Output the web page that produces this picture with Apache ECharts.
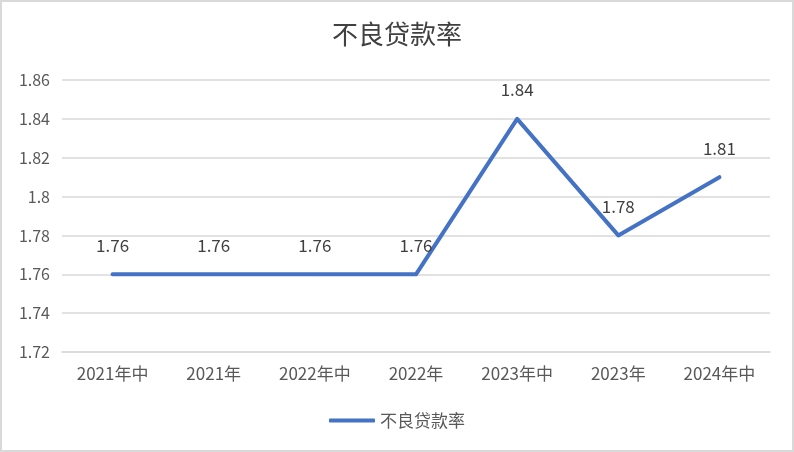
<!DOCTYPE html>
<html>
<head>
<meta charset="utf-8">
<script src="https://cdn.jsdelivr.net/npm/echarts@6/dist/echarts.min.js"></script>
<style>
    html, body { margin: 0; padding: 0; background: #fff; }
    #chart { width: 790px; height: 448px; border: 2px solid #d9d9d9; }
</style>
</head>
<body>
<div id="chart"></div>
<script>
// 数据
const categories = ['2021年中', '2021年', '2022年中', '2022年', '2023年中', '2023年', '2024年中'];
const nplRatio = [1.76, 1.76, 1.76, 1.76, 1.84, 1.78, 1.81];
const seriesName = '不良贷款率';

const chart = echarts.init(document.getElementById('chart'));
const font = '"Microsoft YaHei", "Noto Sans CJK SC", sans-serif';

chart.setOption({
    animation: false,
    title: {
        text: '不良贷款率',
        left: 'center',
        top: 14,
        textStyle: {
            fontFamily: '"Noto Sans CJK SC", serif',
            fontSize: 26,
            fontWeight: 'normal',
            color: '#404040'
        }
    },
    legend: {
        data: [seriesName],
        bottom: 16,
        left: 'center',
        itemWidth: 46,
        itemHeight: 4,
        itemGap: 6,
        icon: 'roundRect',
        textStyle: { fontFamily: font, fontSize: 17, color: '#595959' }
    },
    grid: {
        top: 78,
        left: 60,
        right: 22,
        bottom: 98
    },
    xAxis: {
        type: 'category',
        data: categories,
        boundaryGap: true,
        axisLine: { lineStyle: { color: '#d9d9d9', width: 1.5 } },
        axisTick: { show: false },
        axisLabel: { fontFamily: font, fontSize: 17, color: '#595959', margin: 13 }
    },
    yAxis: {
        type: 'value',
        min: 1.72,
        max: 1.86,
        interval: 0.02,
        axisLine: { show: false },
        axisTick: { show: false },
        splitLine: { lineStyle: { color: '#d9d9d9', width: 1.5 } },
        axisLabel: {
            fontFamily: font,
            fontSize: 16,
            color: '#595959',
            margin: 12,
            formatter: function (v) {
                return String(parseFloat(v.toFixed(2)));
            }
        }
    },
    series: [{
        name: seriesName,
        type: 'line',
        data: nplRatio,
        symbol: 'circle',
        symbolSize: 1,
        showSymbol: true,
        lineStyle: { color: '#4472C4', width: 4, cap: 'round', join: 'round' },
        itemStyle: { color: '#4472C4' },
        label: {
            show: true,
            position: 'top',
            distance: 20,
            fontFamily: font,
            fontSize: 17,
            color: '#404040'
        }
    }]
});
</script>
</body>
</html>
